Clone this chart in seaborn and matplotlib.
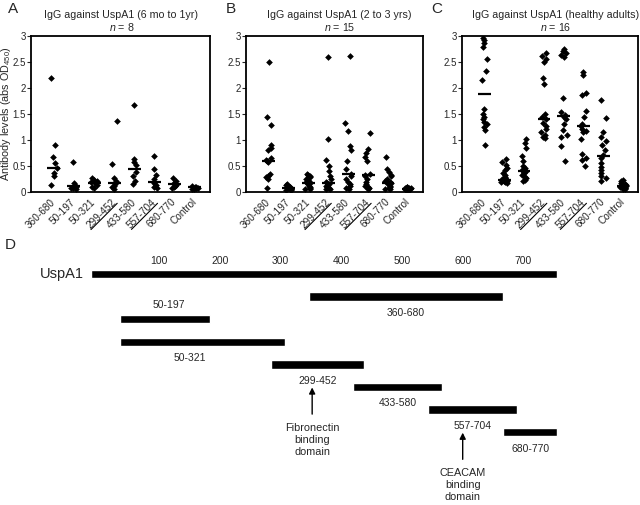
import numpy as np
import pandas as pd
import matplotlib
matplotlib.use('Agg')
import matplotlib.pyplot as plt
from matplotlib.lines import Line2D
import seaborn as sns

# ---------------- data ----------------
fragments = ['360-680', '50-197', '50-321', '299-452', '433-580', '557-704', '680-770', 'Control']
underlined_fragments = ['299-452', '557-704']
y_ticks = [0, 0.5, 1, 1.5, 2, 2.5, 3]
y_tick_labels = ['0', '0.5', '1', '1.5', '2', '2.5', '3']

titles = ['IgG against UspA1 (6 mo to 1yr)', 'IgG against UspA1 (2 to 3 yrs)',
          'IgG against UspA1 (healthy adults)']
group_sizes = [8, 15, 16]
panel_letters = ['A', 'B', 'C']
y_label = 'Antibody levels (abs OD$_{450}$)'

infant_values = [
    [2.2, 0.9, 0.68, 0.55, 0.47, 0.37, 0.3, 0.13],
    [0.58, 0.17, 0.13, 0.1, 0.09, 0.08, 0.07, 0.05],
    [0.27, 0.24, 0.21, 0.19, 0.17, 0.14, 0.1, 0.07],
    [1.37, 0.53, 0.27, 0.22, 0.15, 0.12, 0.1, 0.06],
    [1.68, 0.63, 0.58, 0.52, 0.38, 0.3, 0.22, 0.15],
    [0.7, 0.45, 0.33, 0.25, 0.18, 0.14, 0.1, 0.07],
    [0.26, 0.22, 0.18, 0.15, 0.13, 0.11, 0.09, 0.07],
    [0.12, 0.1, 0.09, 0.08, 0.08, 0.07, 0.06, 0.05],
]
infant_medians = [0.46, 0.11, 0.18, 0.17, 0.44, 0.2, 0.15, 0.09]

toddler_values = [
    [2.5, 1.45, 1.28, 0.9, 0.85, 0.8, 0.65, 0.62, 0.6, 0.58, 0.35, 0.3, 0.28, 0.25, 0.07],
    [0.15, 0.13, 0.12, 0.1, 0.1, 0.09, 0.08, 0.08, 0.07, 0.06, 0.06, 0.05, 0.05, 0.04, 0.03],
    [0.35, 0.33, 0.3, 0.28, 0.25, 0.22, 0.2, 0.18, 0.17, 0.15, 0.12, 0.1, 0.08, 0.06, 0.05],
    [2.6, 1.02, 0.62, 0.5, 0.4, 0.3, 0.25, 0.2, 0.18, 0.15, 0.12, 0.1, 0.08, 0.06, 0.05],
    [2.62, 1.32, 1.17, 0.88, 0.8, 0.6, 0.45, 0.35, 0.3, 0.25, 0.2, 0.15, 0.12, 0.08, 0.05],
    [1.14, 0.82, 0.75, 0.68, 0.6, 0.35, 0.32, 0.3, 0.25, 0.2, 0.15, 0.12, 0.1, 0.07, 0.05],
    [0.68, 0.45, 0.38, 0.33, 0.3, 0.25, 0.22, 0.2, 0.18, 0.15, 0.12, 0.1, 0.08, 0.06, 0.05],
    [0.1, 0.09, 0.08, 0.08, 0.07, 0.07, 0.06, 0.06, 0.05, 0.05, 0.05, 0.04, 0.04, 0.03, 0.03],
]
toddler_medians = [0.6, 0.08, 0.17, 0.18, 0.35, 0.32, 0.18, 0.06]

adult_values = [
    [2.97, 2.92, 2.87, 2.78, 2.55, 2.32, 2.15, 1.6, 1.5, 1.45, 1.4, 1.35, 1.3, 1.25, 1.2, 0.9],
    [0.64, 0.57, 0.52, 0.47, 0.42, 0.37, 0.32, 0.29, 0.27, 0.25, 0.24, 0.22, 0.21, 0.2, 0.19, 0.18],
    [1.02, 0.95, 0.85, 0.7, 0.6, 0.5, 0.46, 0.43, 0.41, 0.39, 0.36, 0.32, 0.29, 0.26, 0.23, 0.21],
    [2.68, 2.62, 2.55, 2.5, 2.2, 2.07, 1.5, 1.45, 1.4, 1.32, 1.27, 1.22, 1.16, 1.1, 1.06, 1.03],
    [2.75, 2.72, 2.68, 2.64, 2.6, 1.8, 1.53, 1.48, 1.45, 1.4, 1.3, 1.2, 1.1, 1.05, 0.88, 0.6],
    [2.3, 2.25, 1.9, 1.86, 1.55, 1.45, 1.3, 1.26, 1.22, 1.18, 1.15, 1.02, 0.73, 0.66, 0.62, 0.5],
    [1.76, 1.43, 1.16, 1.06, 0.98, 0.9, 0.8, 0.72, 0.66, 0.56, 0.48, 0.42, 0.36, 0.3, 0.26, 0.22],
    [0.24, 0.21, 0.18, 0.16, 0.14, 0.13, 0.12, 0.11, 0.1, 0.09, 0.09, 0.08, 0.07, 0.07, 0.06, 0.05],
]
adult_medians = [1.88, 0.24, 0.41, 1.4, 1.46, 1.26, 0.7, 0.11]

# panel D: UspA1 map
map_labels = ['UspA1', '360-680', '50-197', '50-321', '299-452', '433-580', '557-704', '680-770']
map_starts = [1, 360, 50, 50, 299, 433, 557, 680]
map_ends = [770, 680, 197, 321, 452, 580, 704, 770]
map_ticks = [100, 200, 300, 400, 500, 600, 700]
domain_names = ['Fibronectin\nbinding\ndomain', 'CEACAM\nbinding\ndomain']
domain_positions = [366, 614]
domain_fragment_rows = [4, 6]

# ---------------- style ----------------
sns.set_style('ticks')
plt.rcParams['font.family'] = ['Liberation Sans', 'DejaVu Sans']
plt.rcParams['mathtext.fontset'] = 'custom'
plt.rcParams['mathtext.rm'] = 'Liberation Sans'
plt.rcParams['mathtext.it'] = 'Liberation Sans:italic'
plt.rcParams['mathtext.bf'] = 'Liberation Sans:bold'
np.random.seed(7)

W, H = 640, 505
fig = plt.figure(figsize=(6.4, 5.05), dpi=100)


def fx(px):
    return px / W


def fy(py):
    return 1 - py / H


panel_lefts = [31, 246, 462]
panel_rights = [210, 423, 638]
top_px, bottom_px = 36, 192
title_x = [121.5, 339.5, 555.5]
letter_x = [13.5, 230.5, 436.5]
all_values = [infant_values, toddler_values, adult_values]
all_medians = [infant_medians, toddler_medians, adult_medians]

axes = []
for i in range(3):
    ax = fig.add_axes([fx(panel_lefts[i]), fy(bottom_px),
                       fx(panel_rights[i] - panel_lefts[i]), (bottom_px - top_px) / H])
    axes.append(ax)
    vals = all_values[i]
    df = pd.DataFrame({
        'fragment': np.repeat(fragments, [len(v) for v in vals]),
        'value': np.concatenate(vals),
    })
    sns.stripplot(data=df, x='fragment', y='value', order=fragments, marker='D',
                  size=3.4, color='black', linewidth=0, jitter=0.15, ax=ax)
    pos = np.arange(len(fragments))
    ax.hlines(all_medians[i], pos - 0.32, pos + 0.32, color='black', lw=1.6, zorder=5)
    ax.set_xlim(-1.13, 7.75)
    ax.set_ylim(0, 3)
    ax.set_yticks(y_ticks)
    ax.set_yticklabels(y_tick_labels, fontsize=7)
    ax.set_xticks(pos)
    ax.set_xticklabels(fragments, fontsize=7.2, rotation=45, ha='right',
                       va='center', rotation_mode='anchor')
    ax.tick_params(axis='x', length=0, pad=6)
    ax.tick_params(axis='y', length=3, width=0.8, pad=0.5, direction='out')
    ax.set_xlabel('')
    ax.set_ylabel('')
    for sp in ax.spines.values():
        sp.set_visible(True)
        sp.set_linewidth(1.3)
        sp.set_color('black')
    fig.text(fx(title_x[i]), fy(15), titles[i], ha='center', va='center', fontsize=7.7)
    fig.text(fx(title_x[i]), fy(27), f'$n$ = {group_sizes[i]}', ha='center', va='center', fontsize=7.7)
    fig.text(fx(letter_x[i]), fy(9), panel_letters[i], ha='center', va='center', fontsize=11)

fig.text(fx(6), fy(114), y_label, rotation=90, ha='center', va='center', fontsize=7.8)
fig.text(fx(10), fy(245), 'D', ha='center', va='center', fontsize=11)

# ---------------- panel D ----------------
axd = fig.add_axes([0, 0, 1, 260 / H])
axd.axis('off')
# px = 90 + 0.607 * aa ; row i at y = 274 + 22.6 * i
axd.set_xlim(-90 / 0.607, (W - 90) / 0.607)
axd.set_ylim((505 - 274) / 22.6, (245 - 274) / 22.6)
rows = np.arange(len(map_labels))
starts = np.array(map_starts)
ends = np.array(map_ends)
axd.barh(rows, ends - starts, left=starts, height=0.38, color='black')

for t in map_ticks:
    axd.text(t, (261 - 274) / 22.6, str(t), ha='left', va='center', fontsize=7.5)

axd.annotate(map_labels[0], xy=(starts[0], rows[0]), xytext=(-5, 0), textcoords='offset points',
             ha='right', va='center', fontsize=10.5)
label_offsets = {2: (3, 10.5), 3: (-9.5, -11.5)}
for r in rows[1:]:
    dx, dy = label_offsets.get(r, (0, -11.8))
    axd.annotate(map_labels[r], xy=((starts[r] + ends[r]) / 2, rows[r]), xytext=(dx, dy),
                 textcoords='offset points', ha='center', va='center', fontsize=7.5)

for name, xpos, r in zip(domain_names, domain_positions, domain_fragment_rows):
    tip = r + 1.02
    tail = r + 2.2
    axd.annotate('', xy=(xpos, tip), xytext=(xpos, tail),
                 arrowprops=dict(arrowstyle='-|>', color='black', lw=1.0,
                                 mutation_scale=9, shrinkA=0, shrinkB=0))
    axd.text(xpos, tail + 0.38, name, ha='center', va='top', fontsize=7.8, linespacing=1.25)

# ---------------- underline selected tick labels ----------------
fig.canvas.draw()
renderer = fig.canvas.get_renderer()
c = np.cos(np.pi / 4)
inv = fig.transFigure.inverted()
for ax in axes:
    for lbl in ax.get_xticklabels():
        if lbl.get_text() in underlined_fragments:
            bb = lbl.get_window_extent(renderer)
            prop = lbl.get_fontproperties()
            w, h, d = renderer.get_text_width_height_descent(lbl.get_text(), prop, ismath=False)
            _, hlp, dlp = renderer.get_text_width_height_descent('lp', prop, ismath=False)
            D = max(d, dlp)
            Hbox = bb.width / c - w
            fs_px = prop.get_size_in_points() * fig.dpi / 72
            shift = D - 0.12 * fs_px
            bl = np.array([bb.x0 + Hbox * c, bb.y0])
            br = np.array([bb.x1, bb.y0 + w * c])
            up = np.array([-c, c])
            p0 = bl + shift * up
            p1 = br + shift * up
            q = inv.transform(np.vstack([p0, p1]))
            fig.add_artist(Line2D(q[:, 0], q[:, 1], transform=fig.transFigure,
                                  color='black', lw=0.8))

fig.savefig('out.png', dpi=100)
